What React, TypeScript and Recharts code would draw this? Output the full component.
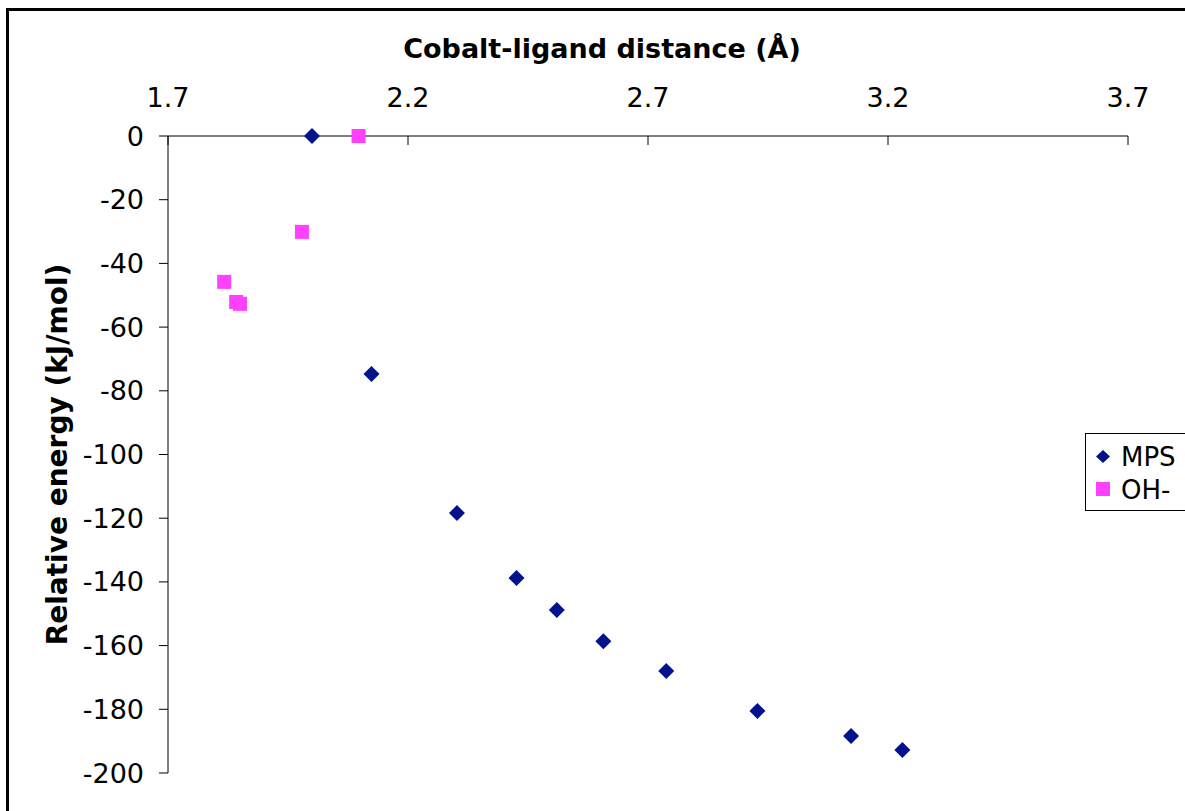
import React from "react"
import { ScatterChart, Scatter, XAxis, YAxis, Legend } from "recharts"

// Cobalt-ligand distance (Å) vs relative energy (kJ/mol)
const mpsDistance = [2.0, 2.124, 2.302, 2.426, 2.51, 2.607, 2.738, 2.928, 3.123, 3.23]
const mpsEnergy = [0, -74.7, -118.4, -138.8, -148.8, -158.6, -168.0, -180.5, -188.4, -192.8]
const ohDistance = [2.097, 1.979, 1.817, 1.842, 1.85]
const ohEnergy = [0, -30.1, -45.8, -52.1, -52.7]

const xTicks = [1.7, 2.2, 2.7, 3.2, 3.7]
const yTicks = [0, -20, -40, -60, -80, -100, -120, -140, -160, -180, -200]

const NAVY = "#00138c"
const MAGENTA = "#ff40ff"
const FONT = "'DejaVu Sans', Verdana, sans-serif"

const mpsData = mpsDistance.map((x, i) => ({ x, y: mpsEnergy[i] }))
const ohData = ohDistance.map((x, i) => ({ x, y: ohEnergy[i] }))

const X_TICK_GAP = 29

function Diamond(props: any) {
  const { cx, cy } = props
  const r = 8
  return <polygon points={`${cx},${cy - r} ${cx + r},${cy} ${cx},${cy + r} ${cx - r},${cy}`} fill={NAVY} />
}

function Square(props: any) {
  const { cx, cy } = props
  const s = 14
  return <rect x={cx - s / 2} y={cy - s / 2} width={s} height={s} fill={MAGENTA} />
}

function XTick(props: any) {
  const { x, y, payload } = props
  return (
    <g>
      <text x={x} y={y} textAnchor="middle" fontSize={27} fill="#000" fontFamily={FONT}>
        {payload.value}
      </text>
      <line x1={x} x2={x} y1={y + X_TICK_GAP} y2={y + X_TICK_GAP + 9} stroke="#000" />
    </g>
  )
}

function LegendBox() {
  const rows = [
    { name: "MPS", icon: <polygon points="8,1 15,7.5 8,14 1,7.5" fill={NAVY} /> },
    { name: "OH-", icon: <rect x={1} y={0} width={14} height={14} fill={MAGENTA} /> },
  ]
  return (
    <div
      style={{
        border: "1px solid #000",
        background: "#fff",
        width: 120,
        height: 78,
        boxSizing: "border-box",
        paddingTop: 6,
        paddingLeft: 9,
        fontFamily: FONT,
        fontSize: 26,
        color: "#000",
      }}
    >
      {rows.map((r) => (
        <div key={r.name} style={{ display: "flex", alignItems: "center", height: 33 }}>
          <svg width={16} height={15} style={{ marginRight: 10 }}>
            {r.icon}
          </svg>
          <span>{r.name}</span>
        </div>
      ))}
    </div>
  )
}

export default function App() {
  return (
    <div style={{ position: "absolute", left: 0, top: 0, width: 1185, height: 811, overflow: "hidden", background: "#fff" }}>
      <div
        style={{
          position: "absolute",
          left: 6,
          top: 8,
          width: 1220,
          height: 840,
          border: "3px solid #000",
        }}
      />
      <div style={{ position: "absolute", left: 0, top: 0 }}>
        <ScatterChart width={1185} height={811} margin={{ top: 76, right: 57, bottom: 38, left: 68 }} style={{ fontFamily: FONT }}>
          <XAxis
            type="number"
            dataKey="x"
            orientation="top"
            domain={[1.7, 3.7]}
            ticks={xTicks}
            height={60}
            tickSize={0}
            tickMargin={X_TICK_GAP}
            tickLine={false}
            tick={<XTick />}
            axisLine={{ stroke: "#000" }}
            allowDataOverflow
            label={{
              content: () => (
                <text x={602} y={58} textAnchor="middle" fontSize={27} fontWeight="bold" fill="#000" fontFamily={FONT}>
                  Cobalt-ligand distance (Å)
                </text>
              ),
            }}
          />
          <YAxis
            type="number"
            dataKey="y"
            domain={[-200, 0]}
            ticks={yTicks}
            width={100}
            tickSize={9}
            tickMargin={15}
            tick={{ fontSize: 27, fill: "#000", fontFamily: FONT }}
            tickLine={{ stroke: "#000" }}
            axisLine={{ stroke: "#000" }}
            label={{
              content: (p: any) => {
                const vb = p.viewBox
                const cy = vb.y + vb.height / 2
                return (
                  <text
                    x={67}
                    y={cy}
                    transform={`rotate(-90 67 ${cy})`}
                    textAnchor="middle"
                    fontSize={28}
                    fontWeight="bold"
                    fill="#000"
                    fontFamily={FONT}
                  >
                    Relative energy (kJ/mol)
                  </text>
                )
              },
            }}
          />
          <Legend
            layout="vertical"
            align="center"
            verticalAlign="middle"
            content={() => <LegendBox />}
            wrapperStyle={{ left: 1085, top: 433, width: 120 }}
          />
          <Scatter name="MPS" data={mpsData} shape={<Diamond />} isAnimationActive={false} />
          <Scatter name="OH-" data={ohData} shape={<Square />} isAnimationActive={false} />
        </ScatterChart>
      </div>
    </div>
  )
}
